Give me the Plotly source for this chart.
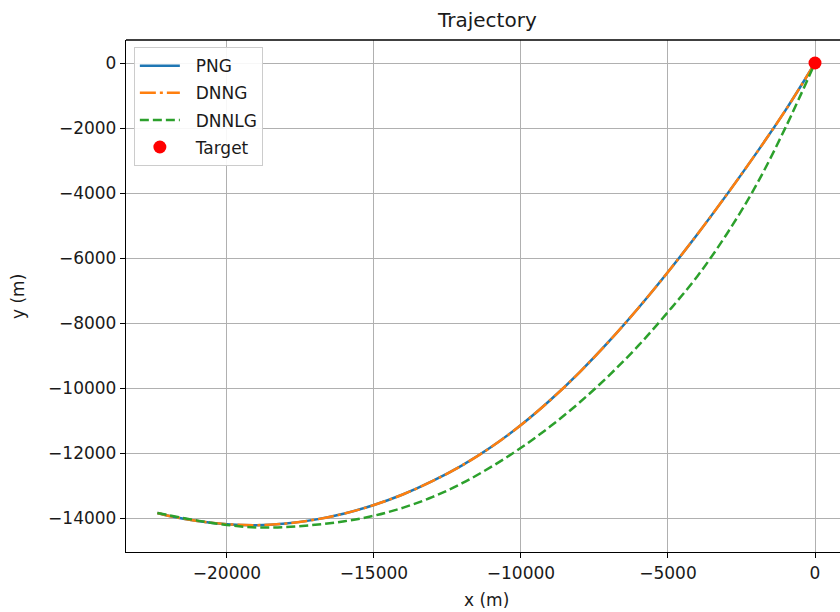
import plotly.graph_objects as go

# PNG trajectory (DNNG practically identical)
png_x = [-22363, -22000, -21000, -20000, -19000, -18000, -17000, -16000, -15000,
         -14000, -13000, -12000, -11000, -10000, -9000, -8000, -7000, -6000,
         -5000, -4000, -3000, -2000, -1000, 0]
png_y = [-13845, -13930, -14090, -14190, -14220, -14170, -14050, -13860, -13600,
         -13270, -12860, -12380, -11810, -11140, -10370, -9510, -8560, -7530,
         -6430, -5270, -4050, -2780, -1450, 0]

dnng_x = list(png_x)
dnng_y = list(png_y)

dnnlg_x = [-22363, -22000, -21000, -20000, -19000, -18000, -17000, -16000, -15000,
           -14000, -13000, -12000, -11000, -10000, -9000, -8000, -7000, -6000,
           -5000, -4000, -3000, -2000, -1000, 0]
dnnlg_y = [-13845, -13910, -14080, -14215, -14290, -14280, -14210, -14100, -13930,
           -13680, -13350, -12930, -12420, -11840, -11180, -10440, -9610, -8690,
           -7660, -6560, -5260, -3760, -1980, 0]

target_x = [0]
target_y = [0]

series_names = ["PNG", "DNNG", "DNNLG", "Target"]

x_ticks = [-20000, -15000, -10000, -5000, 0]
y_ticks = [0, -2000, -4000, -6000, -8000, -10000, -12000, -14000]

FONT = "DejaVu Sans, sans-serif"
TXT = "#1a1a1a"
PAD = "\u00a0\u00a0"

fig = go.Figure()
fig.add_trace(go.Scatter(x=png_x, y=png_y, mode="lines", name=PAD + series_names[0],
                         legendgroup="a",
                         line=dict(color="#1f77b4", width=2.5, shape="spline")))
fig.add_trace(go.Scatter(x=dnng_x, y=dnng_y, mode="lines", name=PAD + series_names[1],
                         legendgroup="b",
                         line=dict(color="#ff7f0e", width=2.5, shape="spline",
                                   dash="16px,4px,3px,4px")))
fig.add_trace(go.Scatter(x=dnnlg_x, y=dnnlg_y, mode="lines", name=PAD + series_names[2],
                         legendgroup="c",
                         line=dict(color="#2ca02c", width=2.5, shape="spline",
                                   dash="9px,4px")))
fig.add_trace(go.Scatter(x=target_x, y=target_y, mode="markers", name=PAD + series_names[3],
                         legendgroup="d",
                         marker=dict(color="#ff0000", size=13)))

axis_common = dict(
    showline=True, linecolor="black", linewidth=1.3,
    ticks="outside", ticklen=5, tickcolor="black", tickwidth=1.2,
    showgrid=True, gridcolor="#b0b0b0", gridwidth=1.3,
    zeroline=False, tickfont=dict(family=FONT, size=17, color=TXT),
)

fig.update_xaxes(range=[-23432, 850], tickvals=x_ticks,
                 ticktext=["\u221220000", "\u221215000", "\u221210000", "\u22125000", "0"],
                 mirror=False, **axis_common)
fig.update_yaxes(range=[-15046, 708], tickvals=y_ticks,
                 ticktext=["0", "\u22122000", "\u22124000", "\u22126000", "\u22128000",
                           "\u221210000", "\u221212000", "\u221214000"],
                 mirror=False, **axis_common)

# top spine
fig.add_shape(type="line", xref="paper", yref="paper", x0=0, x1=1, y0=1, y1=1,
              line=dict(color="black", width=1.3))

fig.update_layout(
    width=840, height=612,
    margin=dict(l=126, r=0, t=40, b=60),
    paper_bgcolor="white", plot_bgcolor="white",
    font=dict(family=FONT, size=17, color=TXT),
    showlegend=True,
    legend=dict(x=0.011, y=0.986, xanchor="left", yanchor="top",
                bgcolor="rgba(255,255,255,0.9)", bordercolor="#cccccc", borderwidth=1,
                font=dict(family=FONT, size=17, color=TXT),
                traceorder="grouped", tracegroupgap=2, itemwidth=40),
    annotations=[
        dict(text="Trajectory", xref="paper", yref="paper", x=0.5056, y=1.039,
             xanchor="center", yanchor="middle", showarrow=False,
             font=dict(family=FONT, size=20, color=TXT)),
        dict(text="x (m)", xref="paper", yref="paper", x=0.5056, y=-0.094,
             xanchor="center", yanchor="middle", showarrow=False,
             font=dict(family=FONT, size=17, color=TXT)),
        dict(text="y (m)", xref="paper", yref="paper", x=-0.1513, y=0.5,
             xanchor="center", yanchor="middle", showarrow=False, textangle=-90,
             font=dict(family=FONT, size=17, color=TXT)),
    ],
)

fig.write_html("out.html")
